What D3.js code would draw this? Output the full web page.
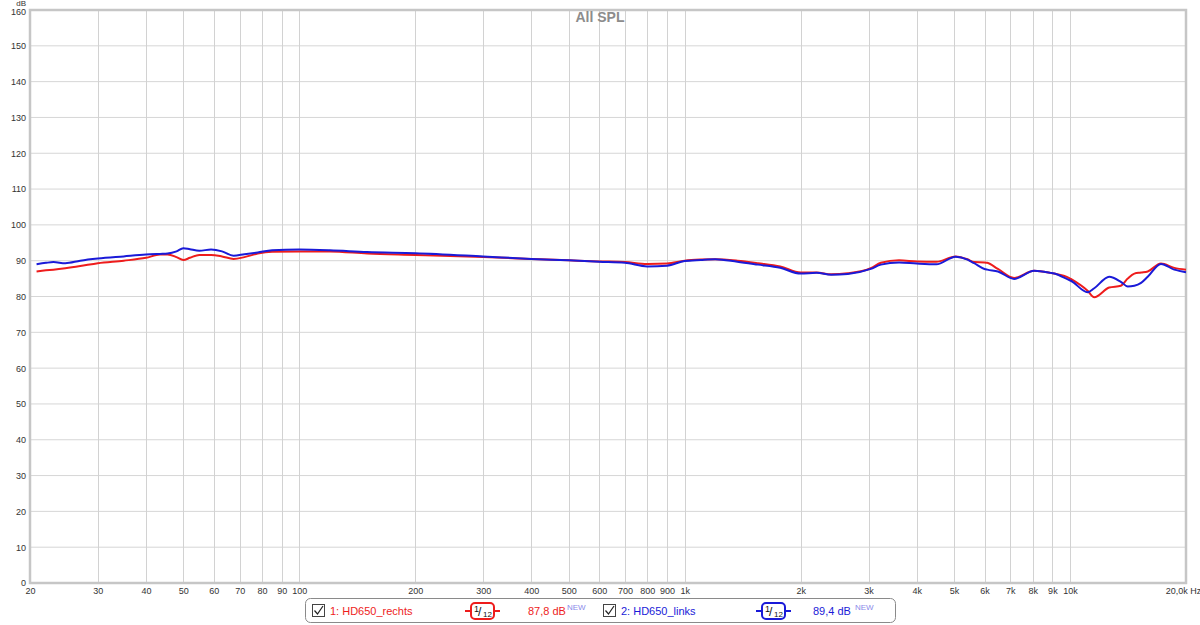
<!DOCTYPE html>
<html><head><meta charset="utf-8">
<script src="https://cdn.jsdelivr.net/npm/d3@7"></script>
<style>
html,body{margin:0;padding:0;background:#fff;}
svg{display:block;font-family:"Liberation Sans",Arial,sans-serif;}
</style></head>
<body><svg id="chart" width="1200" height="625"></svg>
<script>
// ---- data ----
const freqs = [20.8,22,23,24.7,27,30,35,40,43.5,45.5,48,50,52,55,59,63,67.5,72,78,85,100,120,150,200,300,400,500,600,700,800,900,1000,1100,1200,1370,1550,1770,2000,2200,2400,2650,3040,3230,3600,4000,4500,5050,5420,5640,6000,6100,6500,7160,8070,8900,9100,9900,10050,11110,11560,12640,13550,14120,14690,15290,15910,17220,18650,20000];
const rechts = [87.0,87.3,87.5,87.9,88.5,89.3,90.0,90.8,91.7,91.7,91.0,90.2,90.8,91.6,91.6,91.2,90.5,91.0,92.0,92.5,92.6,92.6,92.0,91.6,91.0,90.5,90.1,89.8,89.6,89.1,89.2,90.0,90.3,90.4,90.0,89.3,88.4,86.7,86.7,86.2,86.5,87.9,89.4,90.1,89.8,89.7,91.2,90.4,89.6,89.5,89.4,87.7,85.2,87.2,86.6,86.4,85.3,84.9,81.6,79.8,82.5,83.0,85.0,86.4,86.7,87.0,89.2,88.0,87.5];
const links  = [89.0,89.4,89.6,89.3,90.0,90.6,91.2,91.7,91.9,92.0,92.6,93.5,93.2,92.8,93.1,92.6,91.4,91.8,92.3,92.9,93.1,92.9,92.4,92.1,91.2,90.5,90.1,89.7,89.4,88.4,88.6,89.9,90.2,90.4,89.7,88.9,88.0,86.4,86.6,86.1,86.3,87.7,88.9,89.5,89.2,89.0,91.1,90.3,89.3,87.7,87.5,87.0,84.9,87.2,86.6,86.4,84.7,84.4,81.2,82.3,85.5,84.1,82.8,83.0,83.8,85.5,89.1,87.5,86.8];
const yTicks = [0,10,20,30,40,50,60,70,80,90,100,110,120,130,140,150,160];
const xTicks = [20,30,40,50,60,70,80,90,100,200,300,400,500,600,700,800,900,1000,2000,3000,4000,5000,6000,7000,8000,9000,10000,20000];
const xTickLabels = ["20","30","40","50","60","70","80","90","100","200","300","400","500","600","700","800","900","1k","2k","3k","4k","5k","6k","7k","8k","9k","10k","20,0k Hz"];
const seriesNames = ["1: HD650_rechts","2: HD650_links"];
const seriesLevels = ["87,8 dB","89,4 dB"];
const title = "All SPL";

// ---- drawing ----
const svg = d3.select("#chart");
const L=30, R=1186, T=10, B=583;
const x = d3.scaleLog().domain([20,20000]).range([L,R]);
const y = d3.scaleLinear().domain([0,160]).range([B,T]);

// grid
svg.append("g").selectAll("line").data(yTicks.slice(1,-1)).join("line")
  .attr("x1",L).attr("x2",R).attr("y1",d=>y(d)).attr("y2",d=>y(d))
  .attr("stroke","#d6d6d6").attr("stroke-width",1);
svg.append("g").selectAll("line").data(xTicks.slice(1,-1)).join("line")
  .attr("x1",d=>Math.round(x(d))+0.5).attr("x2",d=>Math.round(x(d))+0.5).attr("y1",T).attr("y2",B)
  .attr("stroke","#d2d2d2").attr("stroke-width",1);

// border
svg.append("rect").attr("x",L).attr("y",T).attr("width",R-L).attr("height",B-T)
  .attr("fill","none").attr("stroke","#c6c6c6").attr("stroke-width",2.5);

// axes
const yAxis = svg.append("g").attr("transform",`translate(${L},0)`)
  .call(d3.axisLeft(y).tickValues(yTicks).tickSize(0).tickPadding(4));
yAxis.select(".domain").remove();
yAxis.selectAll("text").attr("font-size",9).attr("fill","#333").attr("font-family","Liberation Sans, Arial, sans-serif");
yAxis.selectAll("text").filter(d=>d===160).attr("dy","0.45em");
svg.append("text").attr("x",26).attr("y",6).attr("text-anchor","end").attr("font-size",8).attr("fill","#333").text("dB");

const xAxis = svg.append("g").attr("transform",`translate(0,${B})`)
  .call(d3.axisBottom(x).tickValues(xTicks).tickSize(0).tickPadding(5).tickFormat((d,i)=>xTickLabels[i]));
xAxis.select(".domain").remove();
xAxis.selectAll("text").attr("font-size",9).attr("fill","#333").attr("font-family","Liberation Sans, Arial, sans-serif");
xAxis.selectAll("text").filter((d,i)=>i===xTicks.length-1).attr("dx",-3);

// title
svg.append("text").attr("x",600).attr("y",22).attr("text-anchor","middle")
  .attr("font-size",14).attr("font-weight","bold").attr("fill","#8c8c8c").text(title);

// curves
const line = d3.line().x(d=>x(d[0])).y(d=>y(d[1])).curve(d3.curveMonotoneX);
const colors = ["#ee1c1c","#1a1ad8"];
[rechts,links].forEach((vals,k)=>{
  svg.append("path").datum(freqs.map((f,i)=>[f,vals[i]]))
    .attr("d",line).attr("fill","none").attr("stroke",colors[k]).attr("stroke-width",2)
    .attr("stroke-linejoin","round");
});

// legend
const lg = svg.append("g");
lg.append("rect").attr("x",305.5).attr("y",598.5).attr("width",590).attr("height",24).attr("rx",5)
  .attr("fill","#fff").attr("stroke","#8a8a8a").attr("stroke-width",1);
const legendX = [312,603];
seriesNames.forEach((name,k)=>{
  const g = lg.append("g").attr("transform",`translate(${legendX[k]},0)`);
  g.append("rect").attr("x",0.5).attr("y",604.5).attr("width",12).attr("height",12)
    .attr("fill","#fff").attr("stroke","#444").attr("stroke-width",1);
  g.append("path").attr("d","M2.5,610.5 L5.5,614 L11,606").attr("fill","none").attr("stroke","#222").attr("stroke-width",1.2);
  g.append("text").attr("x",18).attr("y",615).attr("font-size",11).attr("fill",colors[k]).text(name);
  // filter icon
  const ix = 153;
  g.append("line").attr("x1",ix).attr("x2",ix+35).attr("y1",611).attr("y2",611).attr("stroke",colors[k]).attr("stroke-width",2);
  g.append("rect").attr("x",ix+6).attr("y",603).attr("width",23).attr("height",16).attr("rx",4)
    .attr("fill","#fff").attr("stroke",colors[k]).attr("stroke-width",2);
  g.append("text").attr("x",ix+9).attr("y",612).attr("font-size",9).attr("fill","#111").text("1");
  g.append("text").attr("x",ix+13).attr("y",616).attr("font-size",12).attr("fill","#111").text("/");
  g.append("text").attr("x",ix+18).attr("y",617).attr("font-size",8).attr("fill","#111").text("12");
  g.append("text").attr("x",k===0?216:210).attr("y",615).attr("font-size",11).attr("fill",colors[k]).text(seriesLevels[k]);
  g.append("text").attr("x",k===0?255:252).attr("y",610).attr("font-size",8).attr("fill","#8a8aea").text("NEW");
});
</script></body></html>
